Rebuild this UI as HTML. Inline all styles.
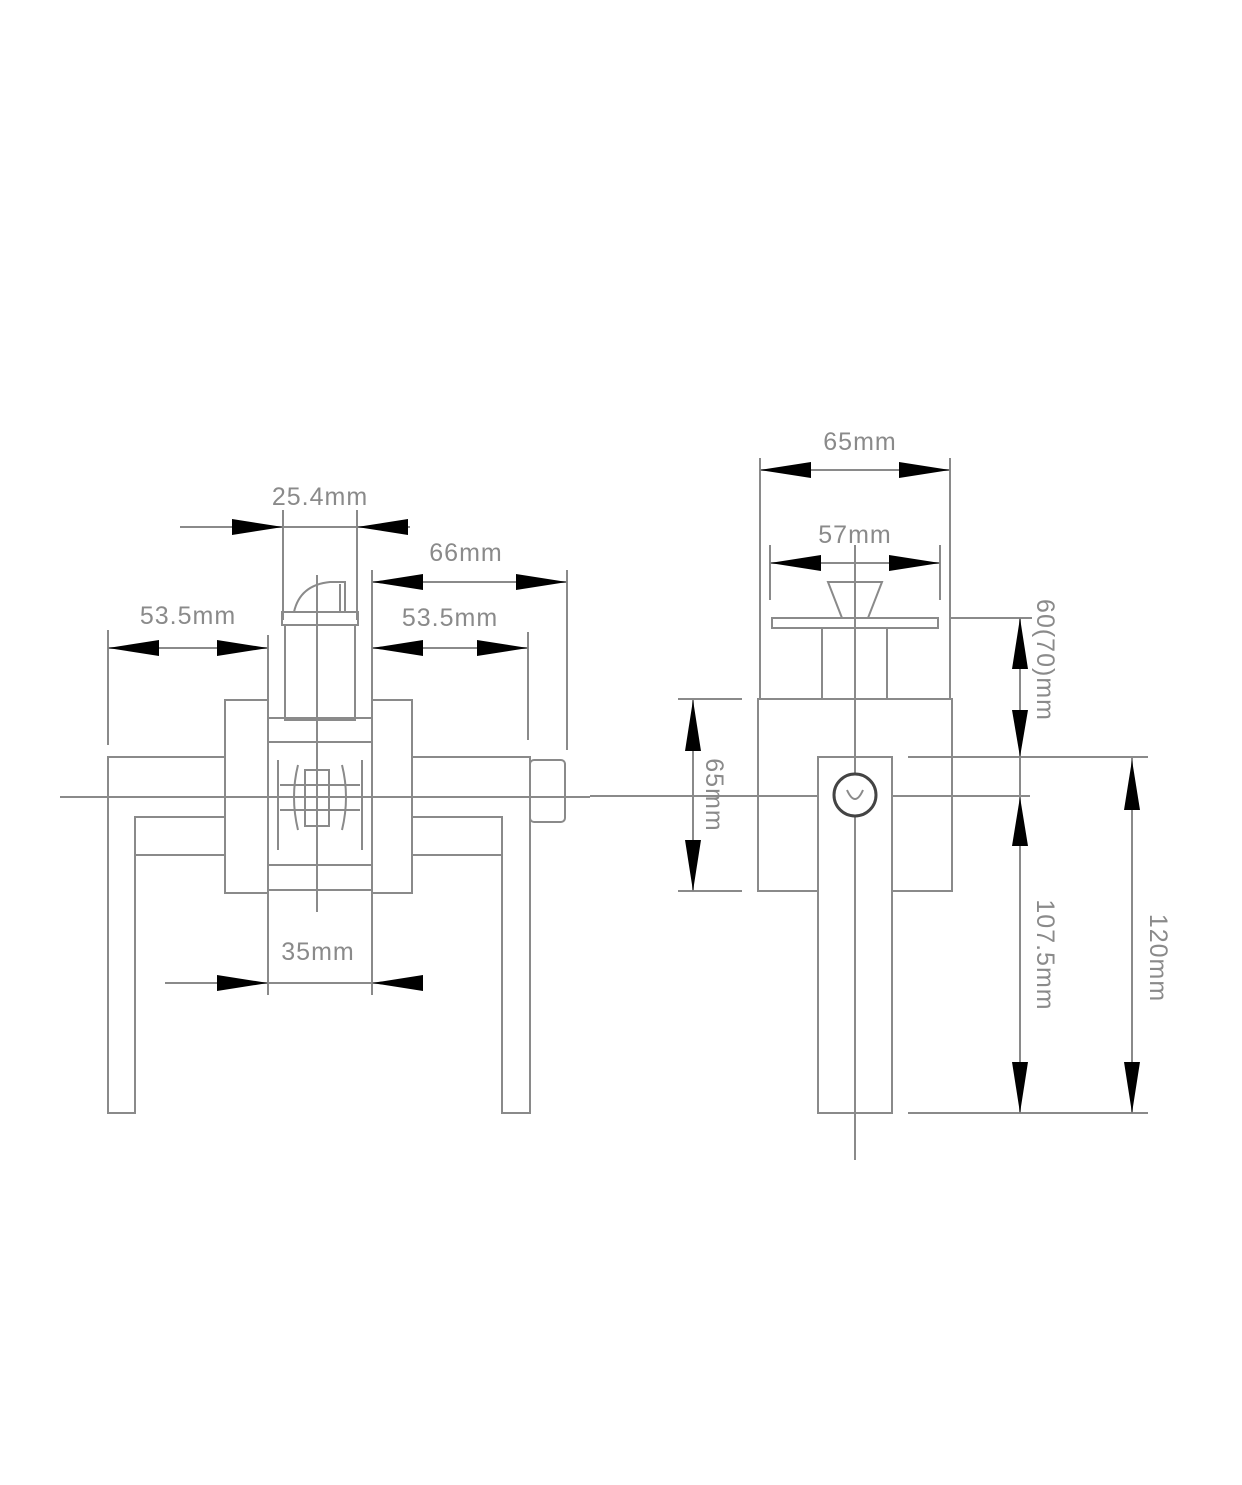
<!DOCTYPE html>
<html><head><meta charset="utf-8"><style>
html,body{margin:0;padding:0;background:#fff;}
svg{display:block;}
text{font-family:"Liberation Sans",sans-serif;font-size:25px;fill:#8a8a8a;letter-spacing:1px;}
</style></head><body>
<svg width="1242" height="1485" viewBox="0 0 1242 1485" xmlns="http://www.w3.org/2000/svg">
<rect width="1242" height="1485" fill="#fff"/>
<g stroke="#8a8a8a" stroke-width="2" fill="none">
<line x1="60" y1="797" x2="590" y2="797"/>
<line x1="317" y1="575" x2="317" y2="912"/>
<path d="M225 757 H108 V1113 H135 V817 H225"/>
<line x1="135" y1="855" x2="225" y2="855"/>
<path d="M412 757 H530 V1113 H502 V817 H412"/>
<line x1="412" y1="855" x2="502" y2="855"/>
<rect x="530" y="760" width="35" height="62" rx="4"/>
<rect x="225" y="700" width="43" height="193"/>
<rect x="372" y="700" width="40" height="193"/>
<rect x="282" y="612" width="76" height="13"/>
<rect x="285" y="625" width="70" height="95"/>
<path d="M294 612 Q300 585 330 582 H345 V612"/>
<line x1="340" y1="584" x2="340" y2="612"/>
<rect x="268" y="718" width="104" height="172"/>
<line x1="278" y1="760" x2="278" y2="850"/>
<line x1="362" y1="760" x2="362" y2="850"/>
<line x1="268" y1="742" x2="372" y2="742"/>
<line x1="268" y1="865" x2="372" y2="865"/>
<rect x="305" y="770" width="24" height="56"/>
<line x1="280" y1="785" x2="360" y2="785"/>
<line x1="280" y1="810" x2="360" y2="810"/>
<path d="M298 765 Q290 797 298 830"/>
<path d="M342 765 Q350 797 342 830"/>
<line x1="180" y1="527" x2="410" y2="527"/>
<line x1="283" y1="510" x2="283" y2="620"/>
<line x1="357" y1="510" x2="357" y2="620"/>
<line x1="372" y1="582" x2="567" y2="582"/>
<line x1="372" y1="570" x2="372" y2="700"/>
<line x1="567" y1="570" x2="567" y2="750"/>
<line x1="108" y1="648" x2="268" y2="648"/>
<line x1="108" y1="630" x2="108" y2="745"/>
<line x1="268" y1="635" x2="268" y2="700"/>
<line x1="372" y1="648" x2="528" y2="648"/>
<line x1="528" y1="632" x2="528" y2="740"/>
<line x1="165" y1="983" x2="423" y2="983"/>
<line x1="268" y1="893" x2="268" y2="995"/>
<line x1="372" y1="893" x2="372" y2="995"/>
<line x1="590" y1="796" x2="1030" y2="796"/>
<line x1="855" y1="545" x2="855" y2="1160"/>
<path d="M828 582 H882 L868 618 H842 Z"/>
<rect x="772" y="618" width="166" height="10"/>
<line x1="822" y1="628" x2="822" y2="699"/>
<line x1="887" y1="628" x2="887" y2="699"/>
<rect x="758" y="699" width="194" height="192"/>
<rect x="818" y="757" width="74" height="356" fill="#fff"/>
<line x1="855" y1="757" x2="855" y2="1113"/>
<circle cx="855" cy="795" r="21" stroke="#444" stroke-width="3" fill="#fff"/>
<path d="M847 790 Q855 808 863 790"/>
<line x1="760" y1="470" x2="950" y2="470"/>
<line x1="760" y1="458" x2="760" y2="699"/>
<line x1="950" y1="458" x2="950" y2="699"/>
<line x1="770" y1="563" x2="940" y2="563"/>
<line x1="770" y1="545" x2="770" y2="600"/>
<line x1="940" y1="545" x2="940" y2="600"/>
<line x1="693" y1="700" x2="693" y2="892"/>
<line x1="678" y1="699" x2="742" y2="699"/>
<line x1="678" y1="891" x2="742" y2="891"/>
<line x1="950" y1="618" x2="1032" y2="618"/>
<line x1="908" y1="757" x2="1148" y2="757"/>
<line x1="908" y1="1113" x2="1148" y2="1113"/>
<line x1="1020" y1="618" x2="1020" y2="1113"/>
<line x1="1132" y1="757" x2="1132" y2="1113"/>
</g>
<g fill="#000">
<polygon points="283,527 232,519 232,535"/>
<polygon points="357,527 408,519 408,535"/>
<polygon points="372,582 423,574 423,590"/>
<polygon points="567,582 516,574 516,590"/>
<polygon points="108,648 159,640 159,656"/>
<polygon points="268,648 217,640 217,656"/>
<polygon points="372,648 423,640 423,656"/>
<polygon points="528,648 477,640 477,656"/>
<polygon points="268,983 217,975 217,991"/>
<polygon points="372,983 423,975 423,991"/>
<polygon points="760,470 811,462 811,478"/>
<polygon points="950,470 899,462 899,478"/>
<polygon points="770,563 821,555 821,571"/>
<polygon points="940,563 889,555 889,571"/>
<polygon points="693,700 685,751 701,751"/>
<polygon points="693,891 685,840 701,840"/>
<polygon points="1020,618 1012,669 1028,669"/>
<polygon points="1020,757 1012,710 1028,710"/>
<polygon points="1020,797 1012,846 1028,846"/>
<polygon points="1020,1113 1012,1062 1028,1062"/>
<polygon points="1132,760 1124,810 1140,810"/>
<polygon points="1132,1113 1124,1062 1140,1062"/>
</g>
<text x="320" y="505" text-anchor="middle">25.4mm</text>
<text x="466" y="561" text-anchor="middle">66mm</text>
<text x="188" y="624" text-anchor="middle">53.5mm</text>
<text x="450" y="626" text-anchor="middle">53.5mm</text>
<text x="318" y="960" text-anchor="middle">35mm</text>
<text x="860" y="450" text-anchor="middle">65mm</text>
<text x="855" y="543" text-anchor="middle">57mm</text>
<text transform="translate(706,795) rotate(90)" text-anchor="middle">65mm</text>
<text transform="translate(1037,660) rotate(90)" text-anchor="middle">60(70)mm</text>
<text transform="translate(1037,955) rotate(90)" text-anchor="middle">107.5mm</text>
<text transform="translate(1150,958) rotate(90)" text-anchor="middle">120mm</text>
</svg>
</body></html>
